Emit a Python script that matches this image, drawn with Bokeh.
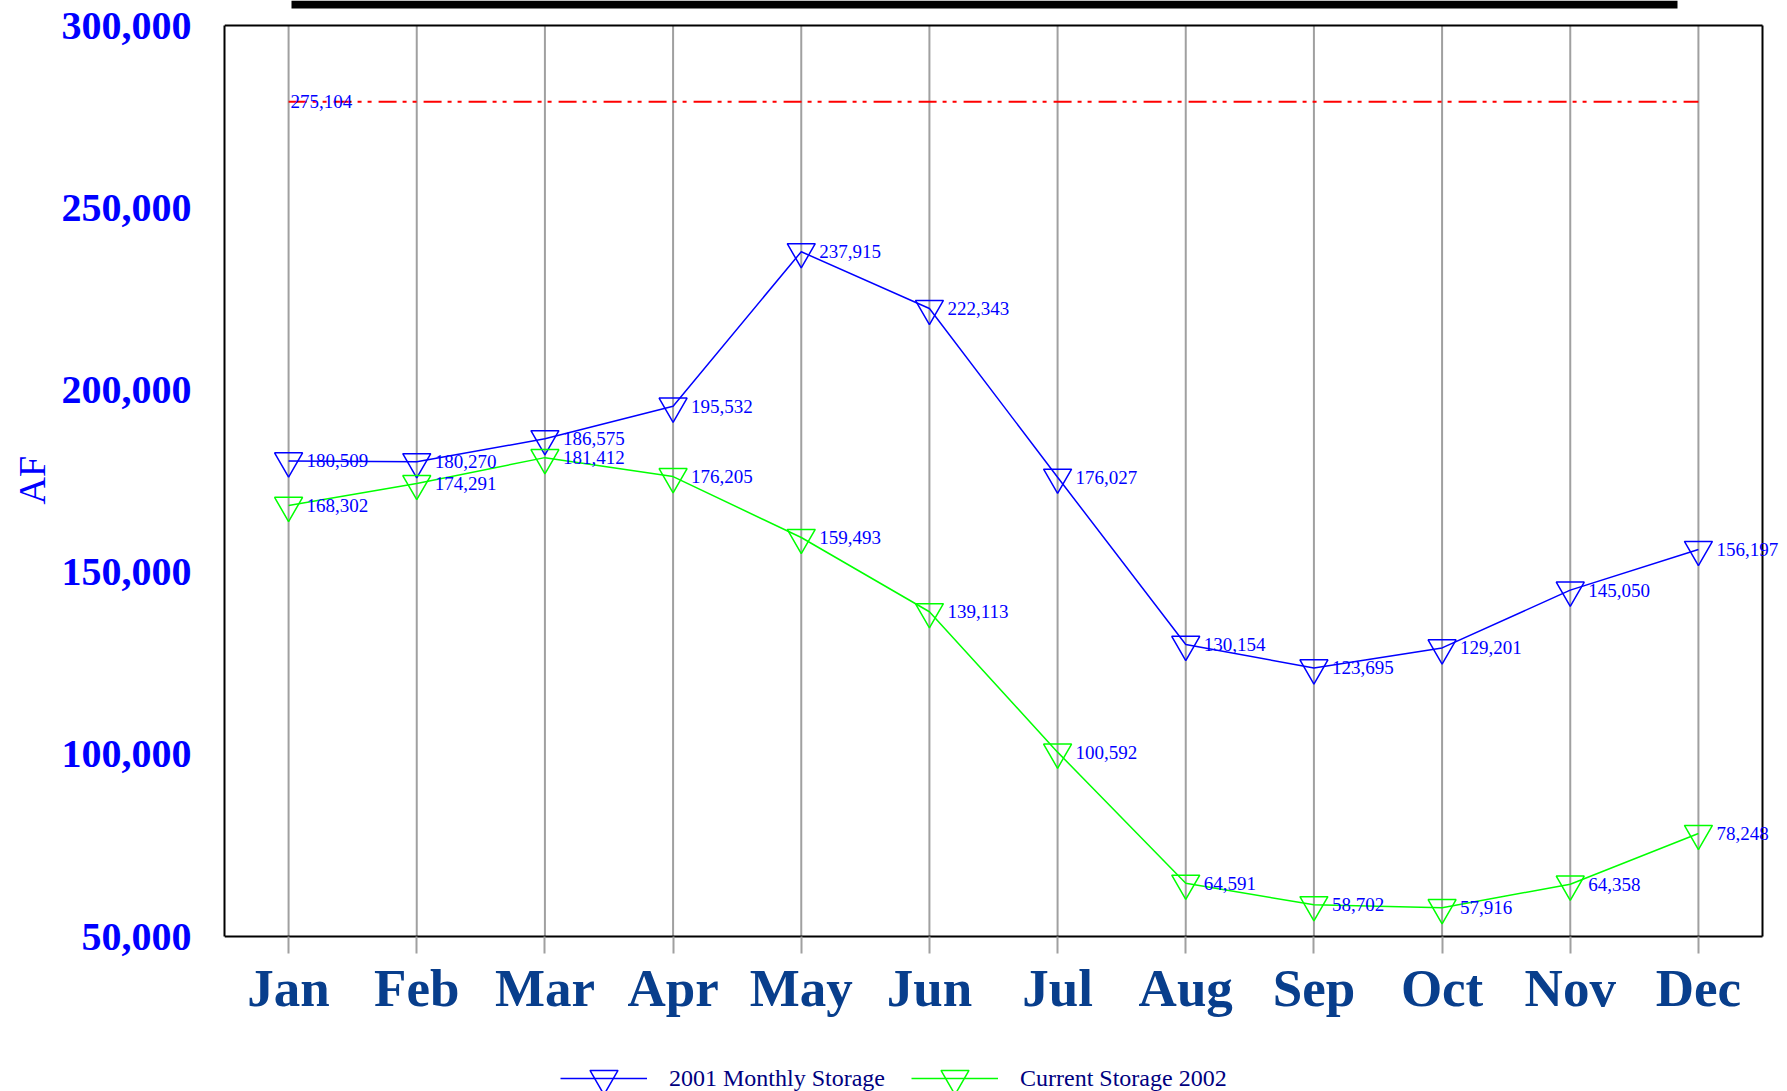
from bokeh.plotting import figure
from bokeh.models import (ColumnDataSource, Range1d, FixedTicker,
                          NumeralTickFormatter, LabelSet, Legend, LegendItem,
                          LinearAxis, BoxAnnotation, Title)
from bokeh.embed import file_html
from bokeh.resources import INLINE

# ---------------- data ----------------
months = ["Jan", "Feb", "Mar", "Apr", "May", "Jun",
          "Jul", "Aug", "Sep", "Oct", "Nov", "Dec"]
storage_2001 = [180509, 180270, 186575, 195532, 237915, 222343,
                176027, 130154, 123695, 129201, 145050, 156197]
storage_2002 = [168302, 174291, 181412, 176205, 159493, 139113,
                100592, 64591, 58702, 57916, 64358, 78248]
capacity_label = "275,104"
capacity_level = 279100          # where the reference draws the capacity line
y_ticks = [50000, 100000, 150000, 200000, 250000, 300000]
y_title = "AF"
series_names = ["2001 Monthly Storage", "Current Storage 2002"]

month_idx = list(range(len(months)))

SERIF = "Liberation Serif"
BLUE = "#0000ff"
GREEN = "#00ff00"

# ---------------- layout constants (pixels) ----------------
W, H = 1780, 1091
LEFT = 224                 # left border (y axis panel)
BOX_TOP, BOX_BOTTOM, BOX_RIGHT = 25, 936, 1762   # visible chart box
y_lo, y_hi = y_ticks[0], y_ticks[-1]
x_lo, x_hi = month_idx[0] - 0.5, month_idx[-1] + 0.5
ux = (x_hi - x_lo) / (BOX_RIGHT - LEFT)          # data units per px
uy = (y_hi - y_lo) / (BOX_BOTTOM - BOX_TOP)
x_range = Range1d(x_lo, x_lo + (W - LEFT) * ux)
y_range = Range1d(y_lo - (H - BOX_BOTTOM) * uy, y_hi + BOX_TOP * uy)

p = figure(width=W, height=H, x_range=x_range, y_range=y_range,
           output_backend="svg", toolbar_location=None,
           min_border_left=LEFT, min_border_right=0,
           min_border_top=0, min_border_bottom=0)
p.background_fill_color = "white"
p.border_fill_color = "white"
p.outline_line_color = None
p.grid.grid_line_color = None

# vertical grid lines, limited to the chart box
grid_src = ColumnDataSource(dict(x=month_idx, y0=[y_lo] * len(month_idx),
                                 y1=[y_hi] * len(month_idx)))
p.segment(x0="x", y0="y0", x1="x", y1="y1", source=grid_src,
          line_color="#a0a0a0", line_width=2)

# x axis (bottom of chart box)
xa = p.xaxis[0]
xa.fixed_location = y_lo
xa.ticker = FixedTicker(ticks=month_idx)
xa.major_label_overrides = {i: m for i, m in zip(month_idx, months)}
xa.bounds = (x_lo, x_hi)
xa.axis_line_color = "black"
xa.axis_line_width = 2
xa.minor_tick_line_color = None
xa.major_tick_line_color = "#a0a0a0"
xa.major_tick_line_width = 2
xa.major_tick_out = 17
xa.major_tick_in = 0
xa.major_label_standoff = 5
xa.major_label_text_font = SERIF
xa.major_label_text_font_style = "bold"
xa.major_label_text_font_size = "53px"
xa.major_label_text_color = "#083e8c"


def border_axis(loc, bounds):
    ax = LinearAxis(fixed_location=loc, bounds=bounds,
                    axis_line_color="black", axis_line_width=2,
                    major_tick_line_color=None, minor_tick_line_color=None,
                    major_label_text_font_size="0px", major_label_standoff=0,
                    major_tick_out=0, minor_tick_out=0)
    ax.ticker = FixedTicker(ticks=[])
    return ax


p.add_layout(border_axis(y_hi, (x_lo, x_hi)), "above")
p.add_layout(border_axis(x_hi, (y_lo, y_hi)), "right")

# y axis
ya = p.yaxis[0]
ya.ticker = FixedTicker(ticks=y_ticks)
ya.formatter = NumeralTickFormatter(format="0,0")
ya.bounds = (y_lo, y_hi)
ya.axis_line_color = "black"
ya.axis_line_width = 2
ya.major_tick_line_color = None
ya.minor_tick_line_color = None
ya.major_tick_out = 0
ya.major_tick_in = 0
ya.major_label_standoff = 33
ya.major_label_text_font = SERIF
ya.major_label_text_font_style = "bold"
ya.major_label_text_font_size = "40px"
ya.major_label_text_color = BLUE

# y axis title, centred on the visible chart box
p.add_layout(Title(text=y_title, align="left", offset=H - 504, standoff=12,
                   text_font=SERIF, text_font_style="normal",
                   text_font_size="38px", text_color=BLUE), "left")

# capacity line
cap_src = ColumnDataSource(dict(x=[month_idx[0], month_idx[-1]],
                                y=[capacity_level, capacity_level]))
p.line("x", "y", source=cap_src, line_color="#ff0000", line_width=2,
       line_dash="18 6 4 6 4 7")
cap_lbl = ColumnDataSource(dict(x=[month_idx[0]], y=[capacity_level],
                                t=[capacity_label]))
p.add_layout(LabelSet(x="x", y="y", text="t", source=cap_lbl, x_offset=2,
                      text_baseline="middle", text_font=SERIF,
                      text_font_size="19px", text_color=BLUE))

# series
s1 = ColumnDataSource(dict(x=month_idx, y=storage_2001,
                           t=[f"{v:,}" for v in storage_2001]))
s2 = ColumnDataSource(dict(x=month_idx, y=storage_2002,
                           t=[f"{v:,}" for v in storage_2002]))

l1 = p.line("x", "y", source=s1, line_color=BLUE, line_width=1.5)
m1 = p.scatter("x", "y", source=s1, marker="inverted_triangle", size=28,
               fill_color=None, line_color=BLUE, line_width=1.5)
l2 = p.line("x", "y", source=s2, line_color=GREEN, line_width=1.5)
m2 = p.scatter("x", "y", source=s2, marker="inverted_triangle", size=28,
               fill_color=None, line_color=GREEN, line_width=1.5)

for src in (s1, s2):
    p.add_layout(LabelSet(x="x", y="y", text="t", source=src, x_offset=18,
                          text_baseline="middle", text_font=SERIF,
                          text_font_size="19px", text_color=BLUE))

# legend
legend = Legend(items=[LegendItem(label=series_names[0], renderers=[l1, m1]),
                       LegendItem(label=series_names[1], renderers=[l2, m2])],
                orientation="horizontal", location=(336, -22),
                glyph_width=87, glyph_height=70, label_standoff=22,
                spacing=26, padding=0, margin=0,
                label_text_font=SERIF, label_text_font_size="24px",
                label_text_color="#000080",
                background_fill_alpha=0, border_line_color=None)
p.add_layout(legend, "center")

# black bar at the very top of the page
p.add_layout(BoxAnnotation(left=291, right=1677, top=0, bottom=8,
                           left_units="canvas", right_units="canvas",
                           top_units="canvas", bottom_units="canvas",
                           fill_color="black", fill_alpha=1,
                           line_color=None))

open("out.html", "w").write(file_html(p, INLINE))
